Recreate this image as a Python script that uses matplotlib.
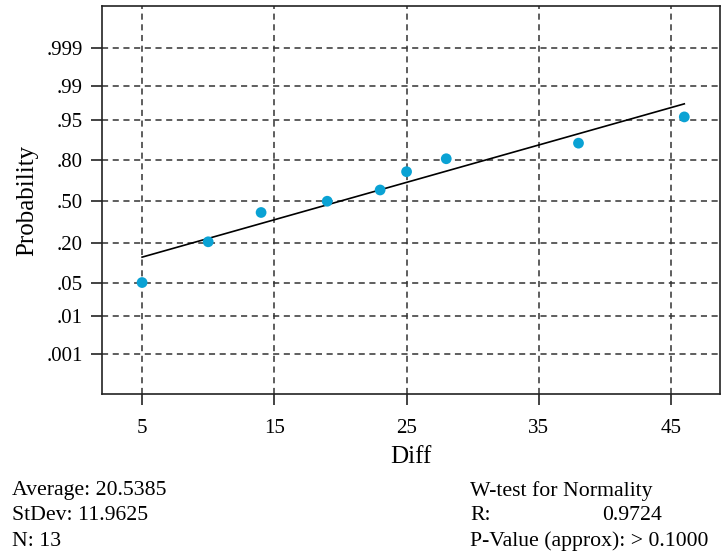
import matplotlib
matplotlib.use("Agg")
import matplotlib.pyplot as plt
from statistics import NormalDist

nd = NormalDist()

# Data
diff_values = [5, 10, 14, 19, 23, 25, 28, 38, 46]
probabilities = [0.05, 0.206, 0.41, 0.50, 0.59, 0.725, 0.805, 0.88, 0.956]
line_x = [5, 46]
line_p = [0.129, 0.9756]
prob_ticks = [0.001, 0.01, 0.05, 0.20, 0.50, 0.80, 0.95, 0.99, 0.999]
prob_labels = [".001", ".01", ".05", ".20", ".50", ".80", ".95", ".99", ".999"]
x_ticks = [5, 15, 25, 35, 45]

plt.rcParams['font.family'] = ['Liberation Serif', 'DejaVu Serif']

fig = plt.figure(figsize=(7.23, 5.53), dpi=100)
ax = fig.add_axes([102/723, 1-394/553, (720-102)/723, (394-6)/553])

z = lambda p: nd.inv_cdf(p)

ax.plot(line_x, [z(p) for p in line_p], color='black', lw=1.2, zorder=3)
ax.scatter(diff_values, [z(p) for p in probabilities], s=60, color='#0aa2d4',
           zorder=4, edgecolors='none')

ax.set_xlim(1.97, 48.7)
ax.set_ylim(-3.9, 3.95)
ax.set_xticks(x_ticks)
ax.set_xticklabels([str(t) for t in x_ticks])
ax.set_yticks([z(p) for p in prob_ticks])
ax.set_yticklabels(prob_labels)
ax.tick_params(direction='out', length=8, width=1.2, labelsize=15, color='#222222')
ax.tick_params(axis='x', pad=10)
ax.tick_params(axis='y', pad=6)
ax.grid(True, linestyle=(0, (4, 3)), color='#333333', lw=1.1)
ax.set_axisbelow(True)
for s in ax.spines.values():
    s.set_color('#222222')
    s.set_linewidth(1.2)

ax.set_ylabel("Probability", fontsize=18, labelpad=6)
ax.set_xlabel("Diff", fontsize=18, labelpad=6)

fs = 15.7
fig.text(12/723, 1-491/553, "Average: 20.5385", fontsize=fs, va='center', ha='left')
fig.text(12/723, 1-516/553, "StDev: 11.9625", fontsize=fs, va='center', ha='left')
fig.text(12/723, 1-541/553, "N: 13", fontsize=fs, va='center', ha='left')
fig.text(470/723, 1-491/553, "W-test for Normality", fontsize=fs, va='center', ha='left')
fig.text(470/723, 1-516/553, "R:", fontsize=fs, va='center', ha='left')
fig.text(662/723, 1-516/553, "0.9724", fontsize=fs, va='center', ha='right')
fig.text(470/723, 1-541/553, "P-Value (approx): > 0.1000", fontsize=fs, va='center', ha='left')

fig.savefig("out.png", dpi=100)
